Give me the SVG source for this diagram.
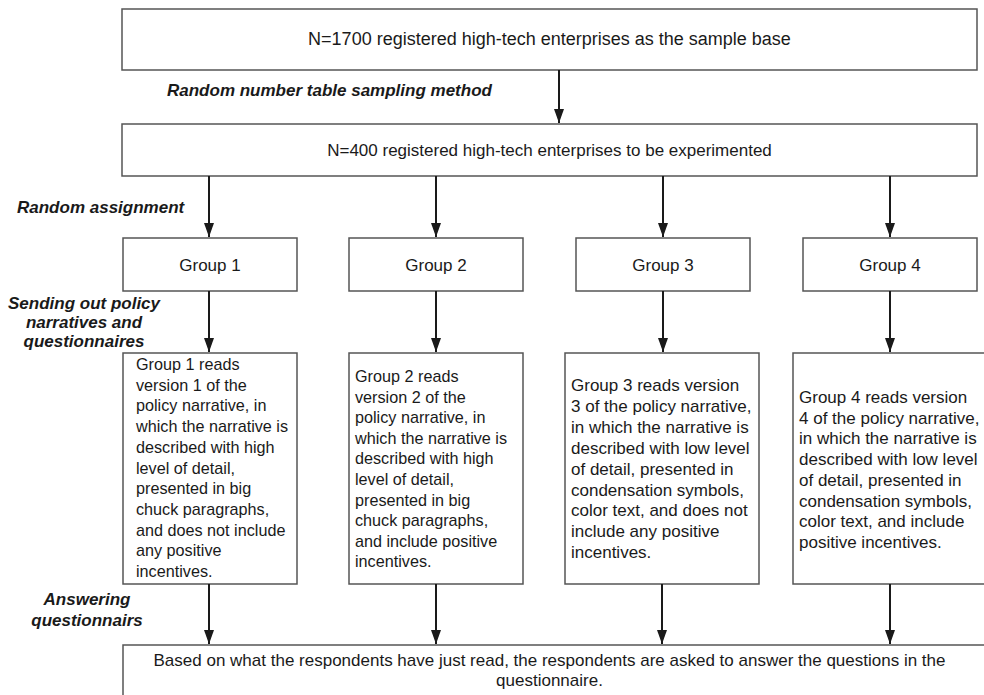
<svg xmlns="http://www.w3.org/2000/svg" width="984" height="695" viewBox="0 0 984 695">
<defs>
<marker id="arr" viewBox="0 0 14 10" refX="14" refY="5" markerWidth="14" markerHeight="10" markerUnits="userSpaceOnUse" orient="auto">
<path d="M0,0 L14,5 L0,10 z" fill="#1a1a1a"/>
</marker>
</defs>
<style>
.box{fill:#fff;stroke:#555;stroke-width:1.5}
.t{font-family:"Liberation Sans",Arial,sans-serif;font-size:17px;fill:#1a1a1a}
.c{text-anchor:middle}
.s{font-size:16.2px}
.lbl{font-family:"Liberation Sans",Arial,sans-serif;font-size:17px;font-weight:bold;font-style:italic;fill:#1a1a1a}
.con line{stroke:#1a1a1a;stroke-width:2;marker-end:url(#arr)}
</style>
<rect width="984" height="695" fill="#fff"/>

<g id="sample-base">
<rect class="box" x="122" y="9" width="855" height="61"/>
<text class="t c" x="549.5" y="45" style="font-size:18px">N=1700 registered high-tech enterprises as the sample base</text>
</g>
<g id="experiment-set">
<rect class="box" x="122" y="124" width="855" height="52"/>
<text class="t c" x="549.5" y="156">N=400 registered high-tech enterprises to be experimented</text>
</g>

<g id="group1"><rect class="box" x="123" y="238" width="174" height="53"/><text class="t c" x="210" y="271">Group 1</text></g>
<g id="group2"><rect class="box" x="349" y="238" width="174" height="53"/><text class="t c" x="436" y="271">Group 2</text></g>
<g id="group3"><rect class="box" x="576" y="238" width="174" height="53"/><text class="t c" x="663" y="271">Group 3</text></g>
<g id="group4"><rect class="box" x="803" y="238" width="174" height="53"/><text class="t c" x="890" y="271">Group 4</text></g>

<g id="version1">
<rect class="box" x="123" y="353" width="174" height="231"/>
<text class="t s" x="136" y="370">
<tspan x="136">Group 1 reads</tspan>
<tspan x="136" dy="20.7">version 1 of the</tspan>
<tspan x="136" dy="20.7">policy narrative, in</tspan>
<tspan x="136" dy="20.7">which the narrative is</tspan>
<tspan x="136" dy="20.7">described with high</tspan>
<tspan x="136" dy="20.7">level of detail,</tspan>
<tspan x="136" dy="20.7">presented in big</tspan>
<tspan x="136" dy="20.7">chuck paragraphs,</tspan>
<tspan x="136" dy="20.7">and does not include</tspan>
<tspan x="136" dy="20.7">any positive</tspan>
<tspan x="136" dy="20.7">incentives.</tspan>
</text>
</g>
<g id="version2">
<rect class="box" x="349" y="353" width="174" height="231"/>
<text class="t s" x="355" y="382">
<tspan x="355">Group 2 reads</tspan>
<tspan x="355" dy="20.6">version 2 of the</tspan>
<tspan x="355" dy="20.6">policy narrative, in</tspan>
<tspan x="355" dy="20.6">which the narrative is</tspan>
<tspan x="355" dy="20.6">described with high</tspan>
<tspan x="355" dy="20.6">level of detail,</tspan>
<tspan x="355" dy="20.6">presented in big</tspan>
<tspan x="355" dy="20.6">chuck paragraphs,</tspan>
<tspan x="355" dy="20.6">and include positive</tspan>
<tspan x="355" dy="20.6">incentives.</tspan>
</text>
</g>
<g id="version3">
<rect class="box" x="565" y="353" width="194" height="231"/>
<text class="t" x="571" y="391">
<tspan x="571">Group 3 reads version</tspan>
<tspan x="571" dy="20.9">3 of the policy narrative,</tspan>
<tspan x="571" dy="20.9">in which the narrative is</tspan>
<tspan x="571" dy="20.9">described with low level</tspan>
<tspan x="571" dy="20.9">of detail, presented in</tspan>
<tspan x="571" dy="20.9">condensation symbols,</tspan>
<tspan x="571" dy="20.9">color text, and does not</tspan>
<tspan x="571" dy="20.9">include any positive</tspan>
<tspan x="571" dy="20.9">incentives.</tspan>
</text>
</g>
<g id="version4">
<rect class="box" x="793" y="353" width="195" height="231"/>
<text class="t" x="799" y="403">
<tspan x="799">Group 4 reads version</tspan>
<tspan x="799" dy="20.7">4 of the policy narrative,</tspan>
<tspan x="799" dy="20.7">in which the narrative is</tspan>
<tspan x="799" dy="20.7">described with low level</tspan>
<tspan x="799" dy="20.7">of detail, presented in</tspan>
<tspan x="799" dy="20.7">condensation symbols,</tspan>
<tspan x="799" dy="20.7">color text, and include</tspan>
<tspan x="799" dy="20.7">positive incentives.</tspan>
</text>
</g>

<g id="answer">
<rect class="box" x="123" y="645" width="870" height="60"/>
<text class="t c" x="549.5" y="666">Based on what the respondents have just read, the respondents are asked to answer the questions in the</text>
<text class="t c" x="549.5" y="686">questionnaire.</text>
</g>

<g id="labels">
<text class="lbl" x="167" y="96">Random number table sampling method</text>
<text class="lbl" x="17" y="213">Random assignment</text>
<text class="lbl c" x="84" y="309">Sending out policy</text>
<text class="lbl c" x="84" y="328">narratives and</text>
<text class="lbl c" x="84" y="347">questionnaires</text>
<text class="lbl c" x="87" y="605">Answering</text>
<text class="lbl c" x="87" y="626">questionnairs</text>
</g>

<g id="connectors" class="con">
<line x1="559" y1="70" x2="559" y2="123"/>
<line x1="209" y1="176" x2="209" y2="237"/>
<line x1="436" y1="176" x2="436" y2="237"/>
<line x1="663" y1="176" x2="663" y2="237"/>
<line x1="890" y1="176" x2="890" y2="237"/>
<line x1="209" y1="291" x2="209" y2="352"/>
<line x1="436" y1="291" x2="436" y2="352"/>
<line x1="663" y1="291" x2="663" y2="352"/>
<line x1="890" y1="291" x2="890" y2="352"/>
<line x1="209" y1="584" x2="209" y2="644"/>
<line x1="436" y1="584" x2="436" y2="644"/>
<line x1="662" y1="584" x2="662" y2="644"/>
<line x1="890" y1="584" x2="890" y2="644"/>
</g>
</svg>
